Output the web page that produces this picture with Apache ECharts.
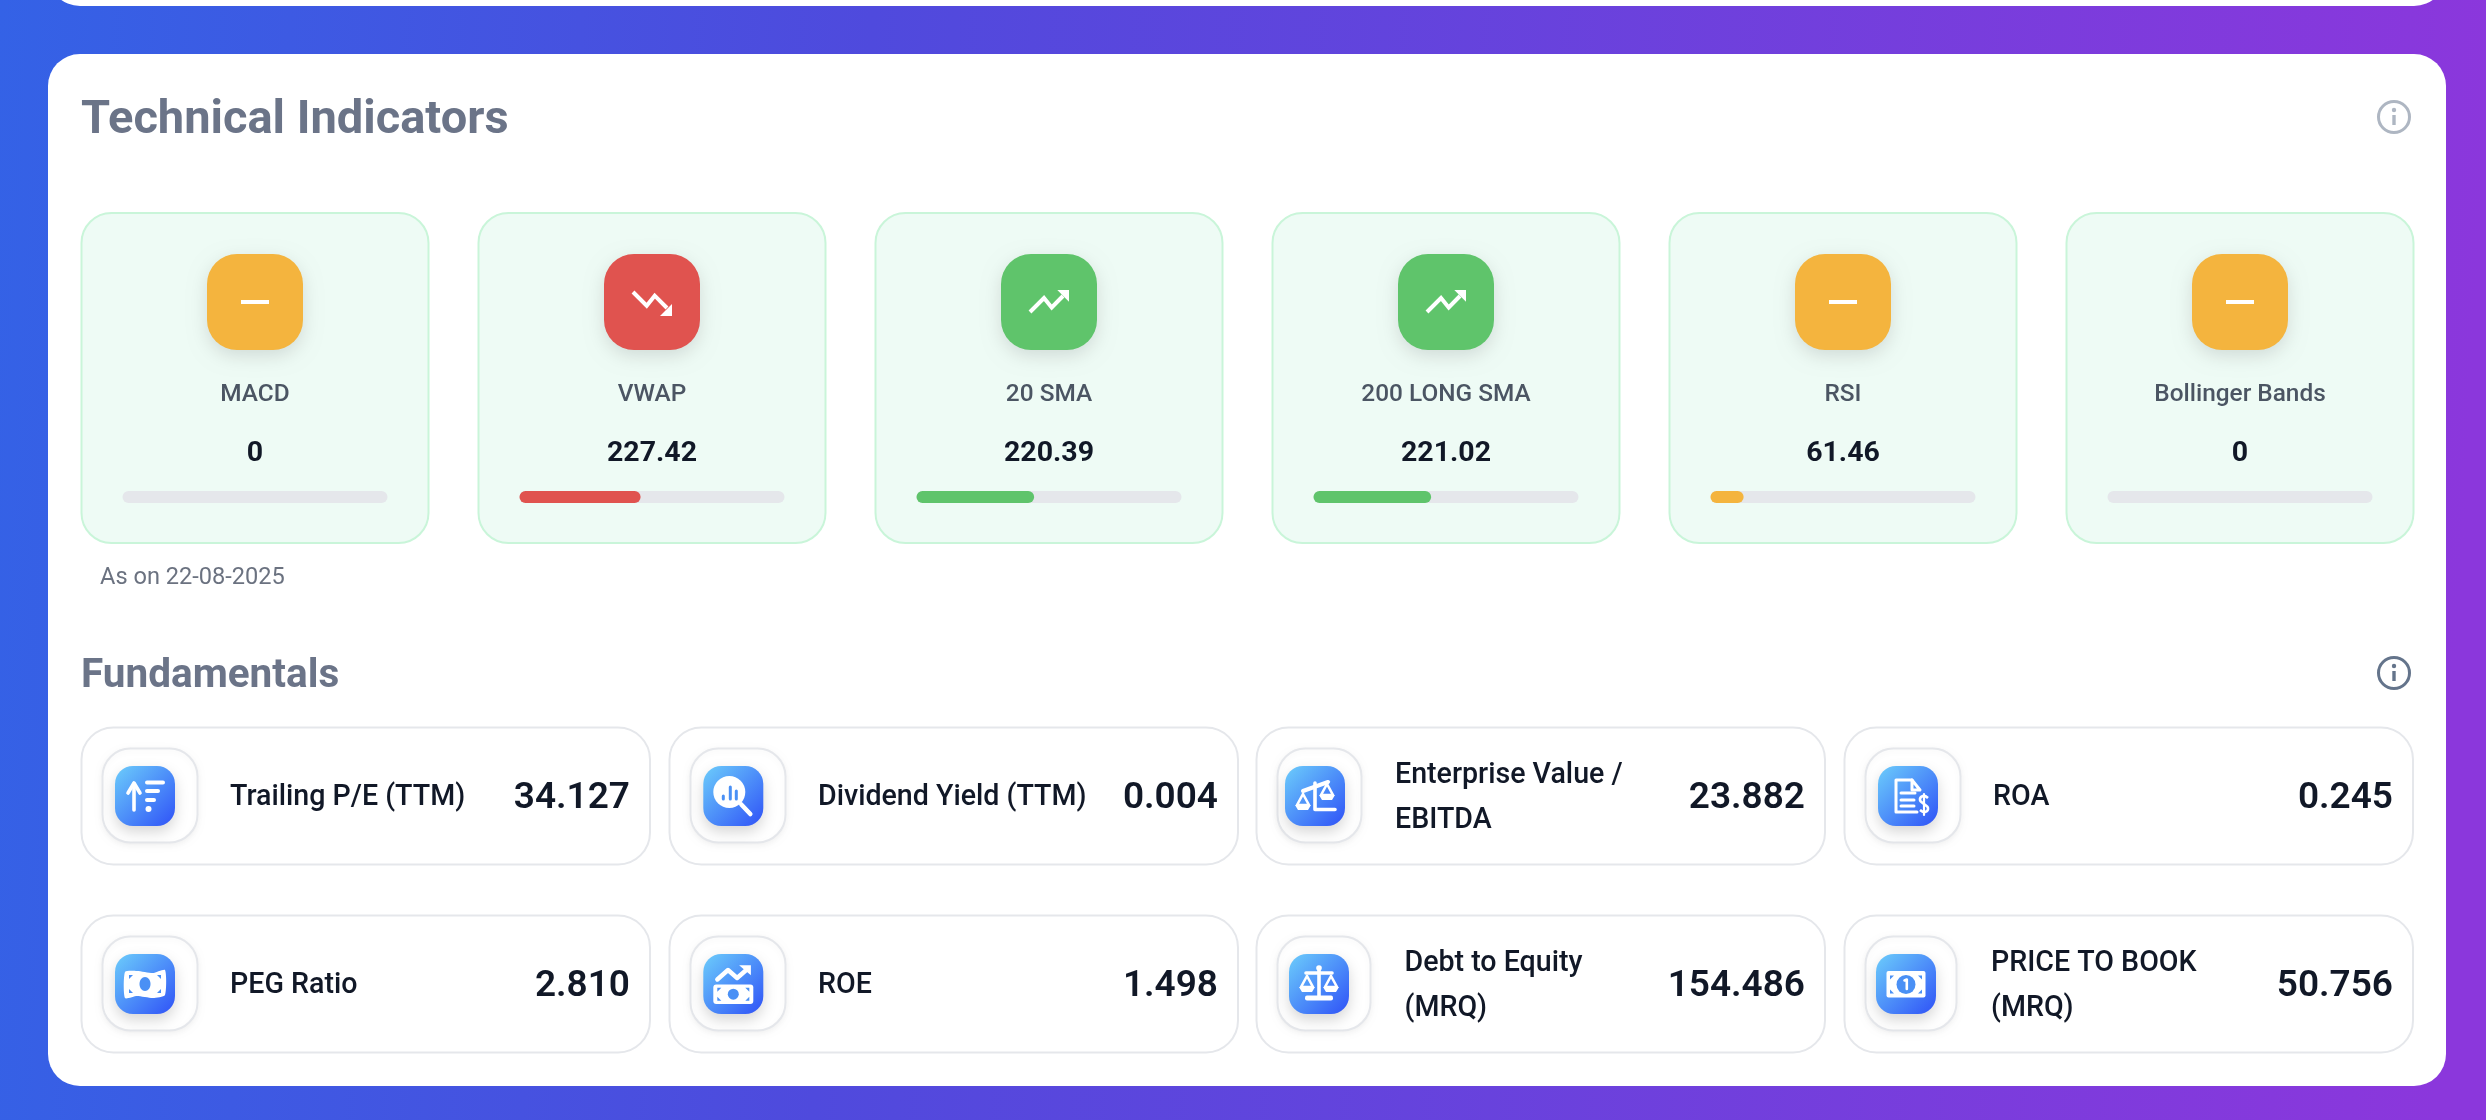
<!DOCTYPE html>
<html lang="en">
<head>
    <meta charset="UTF-8">
    <title>Technical Indicators</title>
    <script src="https://cdnjs.cloudflare.com/ajax/libs/echarts/6.0.0/echarts.min.js"></script>
    <style>
        html, body { margin: 0; padding: 0; overflow: hidden; }
        #chart { width: 2486px; height: 1120px; }
    </style>
</head>
<body>
<div id="chart"></div>

<script>
    var indicatorNames = ['MACD', 'VWAP', '20 SMA', '200 LONG SMA', 'RSI', 'Bollinger Bands'];
    var indicatorValues = ['0', '227.42', '220.39', '221.02', '61.46', '0'];
    var indicatorFill = [0, 45.7, 44.4, 44.4, 12.5, 0];
    var indicatorSignal = ['neutral', 'down', 'up', 'up', 'neutral', 'neutral'];
    var fundamentalNames = [
        'Trailing P/E (TTM)', 'Dividend Yield (TTM)', 'Enterprise Value /\nEBITDA', 'ROA',
        'PEG Ratio', 'ROE', 'Debt to Equity\n(MRQ)', 'PRICE TO BOOK\n(MRQ)'
    ];
    var fundamentalValues = ['34.127', '0.004', '23.882', '0.245', '2.810', '1.498', '154.486', '50.756'];
    var asOnDate = 'As on 22-08-2025';

    var signalColor = {neutral: '#F4B43E', down: '#E0534F', up: '#5FC46B'};
    var FONT = 'Roboto, "Noto Sans", sans-serif';
    var WHITE = '#FFFFFF';
    var BLUE = '#4A90F5';

    var cardX = [80.5, 477.5, 874.5, 1271.5, 1668.5, 2065.5];
    var fundX = [80.5, 668.5, 1255.5, 1843.5];
    var fundY = [726.5, 914.5];
    // the flex row squeezes the icon box differently per card
    var fundBoxW = [95, 95, 84, 95, 95, 95, 93, 91];
    var fundIconX = [145, 733.3, 1315, 1908, 145, 733.3, 1319, 1906];
    var fundTextX = [230, 818, 1395, 1993, 230, 818, 1404.5, 1991];

    var chart = echarts.init(document.getElementById('chart'));

    function roundRect(x, y, w, h, r, style) {
        return {type: 'rect', shape: {x: x, y: y, width: w, height: h, r: r}, style: style};
    }

    // y is where the middle of the capitals should sit, canvas middle runs a bit high
    function label(text, x, y, weight, size, fill, align, lineHeight) {
        var style = {text: text, x: x, y: y + 0.11 * size, font: weight + ' ' + size + 'px ' + FONT, fill: fill,
            textAlign: align || 'left', textVerticalAlign: 'middle'};
        if (lineHeight) {
            style.lineHeight = lineHeight;
        }
        return {type: 'text', style: style};
    }

    function stroke(points, width, color) {
        return {type: 'polyline', shape: {points: points},
            style: {stroke: color || WHITE, lineWidth: width, fill: null, lineCap: 'round', lineJoin: 'round'}};
    }

    function fillPoly(points, color) {
        return {type: 'polygon', shape: {points: points}, style: {fill: color || WHITE}};
    }

    function dot(x, y, r, color) {
        return {type: 'circle', shape: {cx: x, cy: y, r: r}, style: {fill: color || WHITE}};
    }

    function infoIcon(x, y, color) {
        return {type: 'group', x: x, y: y, children: [
            {type: 'circle', shape: {cx: 0, cy: 0, r: 15.5}, style: {fill: null, stroke: color, lineWidth: 3}},
            dot(0, -7, 2.2, color),
            {type: 'line', shape: {x1: 0, y1: -2, x2: 0, y2: 8}, style: {stroke: color, lineWidth: 3.4}}
        ]};
    }

    function signalGlyph(signal) {
        if (signal === 'up') {
            return [
                {type: 'polyline', shape: {points: [[-19, 10], [-5, -4], [2.7, 5.5], [14, -6]]},
                    style: {stroke: WHITE, lineWidth: 4, fill: null}},
                fillPoly([[8.3, -12], [20, -12], [20, -0.3]])
            ];
        }
        if (signal === 'down') {
            return [
                {type: 'polyline', shape: {points: [[-19, -10], [-5.3, 3.7], [2.7, -6.3], [15, 6]]},
                    style: {stroke: WHITE, lineWidth: 4, fill: null}},
                fillPoly([[8, 14], [20, 14], [20, 2]])
            ];
        }
        return [roundRect(-14, -2, 28, 4, 0, {fill: WHITE})];
    }

    function panCenter(cx, top) {
        return [
            stroke([[cx, top], [cx - 6, top + 11], [cx + 6, top + 11], [cx, top]], 2.6),
            {type: 'polygon', shape: {points: [[cx - 8, top + 11], [cx + 8, top + 11], [cx + 5, top + 16], [cx - 5, top + 16]]},
                style: {fill: WHITE}}
        ];
    }

    function billMarks(dy, h) {
        return [
            fillPoly([[-16, dy - h], [-12, dy - h], [-16, dy - h + 4]], BLUE),
            fillPoly([[16, dy - h], [12, dy - h], [16, dy - h + 4]], BLUE),
            fillPoly([[-16, dy + h], [-12, dy + h], [-16, dy + h - 4]], BLUE),
            fillPoly([[16, dy + h], [12, dy + h], [16, dy + h - 4]], BLUE)
        ];
    }

    var fundGlyphs = [
        function () {
            return [
                stroke([[-11, 14], [-11, -12]], 3.6),
                stroke([[-17, -3], [-11, -13], [-5, -3]], 3.6),
                stroke([[2, -13.5], [18, -13.5]], 4),
                stroke([[2, -5], [13, -5]], 4),
                stroke([[2, 4], [9, 4]], 4),
                dot(3.5, 13, 3)
            ];
        },
        function () {
            return [
                dot(-4, -4, 16),
                stroke([[-10, 0], [-10, 3]], 3, BLUE),
                stroke([[-3, -9], [-3, 3]], 3, BLUE),
                stroke([[3, -5], [3, 3]], 3, BLUE),
                stroke([[8, 8.5], [17, 18]], 4.5)
            ];
        },
        function () {
            return [
                stroke([[0, -13], [0, 13.5], [20, 13.5]], 3.6),
                stroke([[-12, -5], [13, -14]], 4),
                {type: 'group', x: -12, y: -2, children: panCenter(0, 0)},
                {type: 'group', x: 12, y: -12, children: panCenter(0, 0)}
            ];
        },
        function () {
            return [
                stroke([[4, -16], [-12, -16], [-12, 16], [9, 16]], 3),
                stroke([[4, -16], [12, -6], [4, -6], [4, -16]], 3),
                stroke([[-7, -3], [7, -3]], 3),
                stroke([[-7, 4], [6, 4]], 3),
                stroke([[-7, 10], [6, 10]], 3),
                {type: 'polyline', shape: {smooth: 0.5, points: [[20, 2], [15, 0], [12, 4], [16, 8], [20, 12], [17, 16], [12, 14]]},
                    style: {stroke: WHITE, lineWidth: 2.6, fill: null}},
                stroke([[16, -2], [16, 19]], 2.2)
            ];
        },
        function () {
            return [
                {type: 'polygon', shape: {smooth: 0.2, points: [[-20, -12], [-8, -13], [8, -11], [20, -14], [20, 11], [8, 14], [-8, 12], [-20, 14]]},
                    style: {fill: WHITE}},
                {type: 'ellipse', shape: {cx: 0, cy: 0, rx: 5.5, ry: 7}, style: {fill: BLUE}}
            ].concat(billMarks(0, 9));
        },
        function () {
            return [
                stroke([[-16, -4.5], [-5.3, -14], [3.8, -6], [13, -14]], 4.4),
                fillPoly([[5.8, -18.8], [17.6, -18.8], [17.6, -8.8]]),
                roundRect(-20, 0.5, 40, 19.5, 3, {fill: WHITE}),
                dot(0, 10.2, 5.5, BLUE)
            ].concat(billMarks(10.2, 6.5));
        },
        function () {
            return [
                stroke([[0, -16], [0, 12]], 3.6),
                dot(0, -16, 2.8),
                stroke([[-13, -11], [13, -11]], 3.6),
                roundRect(-14, 11.5, 28, 5, 2, {fill: WHITE}),
                {type: 'group', x: -12, y: -8, children: panCenter(0, 0)},
                {type: 'group', x: 12, y: -8, children: panCenter(0, 0)}
            ];
        },
        function () {
            return [
                roundRect(-19.5, -13, 39, 26.5, 2, {fill: WHITE}),
                dot(0, 0.5, 9.5, BLUE),
                stroke([[-1.5, -3.5], [0.8, -4.5], [0.8, 5]], 2.6)
            ].concat(billMarks(0.5, 9));
        }
    ];

    var elements = [];

    elements.push(roundRect(0, 0, 2486, 1120, 0, {
        fill: new echarts.graphic.LinearGradient(0, 0, 1, 0.12, [
            {offset: 0, color: '#3462E6'},
            {offset: 0.35, color: '#4F4ADD'},
            {offset: 1, color: '#8B37DC'}
        ])
    }));
    elements.push(roundRect(48, -60, 2398, 66, 32, {fill: WHITE}));
    elements.push(roundRect(48, 54, 2398, 1032, 32, {fill: WHITE}));

    elements.push(label('Technical Indicators', 81, 116, 700, 47, '#6B7488'));
    elements.push(infoIcon(2394, 117, '#AEB6C2'));

    indicatorNames.forEach(function (name, i) {
        var x = cardX[i];
        var cx = x + 174.5;
        elements.push(roundRect(x + 1, 213, 347, 330, 30, {fill: '#EEFBF5', stroke: '#C9F5D9', lineWidth: 2}));
        elements.push(roundRect(cx - 48, 254, 96, 96, 30, {
            fill: signalColor[indicatorSignal[i]],
            shadowBlur: 18,
            shadowOffsetY: 6,
            shadowColor: 'rgba(0,0,0,0.12)'
        }));
        elements.push({type: 'group', x: cx, y: 302, children: signalGlyph(indicatorSignal[i])});
        elements.push(label(name, cx, 392, 500, 24.4, '#4B5563', 'center'));
        elements.push(label(indicatorValues[i], cx, 451, 700, 28.5, '#111827', 'center'));
    });
    elements.push(label(asOnDate, 100, 575, 400, 23.6, '#6B7280'));

    elements.push(label('Fundamentals', 81, 672.5, 700, 40.5, '#6B7488'));
    elements.push(infoIcon(2394, 673, '#64748B'));

    fundamentalNames.forEach(function (name, i) {
        var col = i % 4;
        var x = fundX[col];
        var y = fundY[i < 4 ? 0 : 1];
        var cy = y + 69.5;
        elements.push(roundRect(x + 1, y + 1, 568.5, 137, 32, {fill: WHITE, stroke: '#E5E7EB', lineWidth: 2}));
        elements.push(roundRect(x + 22, y + 22, fundBoxW[i], 94, 28, {
            fill: WHITE,
            stroke: '#E5E7EB',
            lineWidth: 2,
            shadowBlur: 6,
            shadowOffsetY: 2,
            shadowColor: 'rgba(0,0,0,0.05)'
        }));
        elements.push(roundRect(fundIconX[i] - 30, cy - 30, 60, 60, 18, {
            fill: new echarts.graphic.LinearGradient(0, 0, 1, 1, [
                {offset: 0, color: '#6CCDFB'},
                {offset: 1, color: '#2F52F7'}
            ]),
            shadowBlur: 14,
            shadowOffsetY: 6,
            shadowColor: 'rgba(0,0,0,0.16)'
        }));
        elements.push({type: 'group', x: fundIconX[i], y: cy, children: fundGlyphs[i]()});
        elements.push(label(name, fundTextX[i], cy - 1, 500, 28.6, '#111827', 'left', 44.5));
        elements.push(label(fundamentalValues[i], x + 549.5, cy - 1, 600, 37, '#111827', 'right'));
    });

    // one small hidden-axis grid per progress bar
    var grids = [], xAxes = [], yAxes = [], series = [];
    indicatorFill.forEach(function (value, i) {
        grids.push({left: cardX[i] + 42, top: 491, width: 265, height: 12});
        xAxes.push({type: 'value', gridIndex: i, min: 0, max: 100, show: false});
        yAxes.push({type: 'category', gridIndex: i, data: [indicatorNames[i]], show: false});
        series.push({
            type: 'bar',
            xAxisIndex: i,
            yAxisIndex: i,
            data: [value],
            barWidth: 12,
            showBackground: true,
            backgroundStyle: {color: '#E5E7EB', borderRadius: 6},
            itemStyle: {color: signalColor[indicatorSignal[i]], borderRadius: 6},
            silent: true
        });
    });

    chart.setOption({
        animation: false,
        tooltip: {show: false},
        grid: grids,
        xAxis: xAxes,
        yAxis: yAxes,
        graphic: {elements: elements},
        series: series
    });
</script>
</body>
</html>
